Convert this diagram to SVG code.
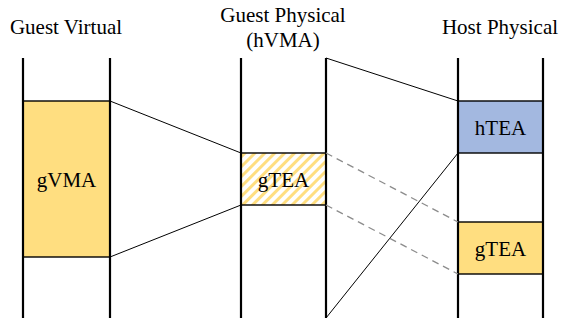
<svg xmlns="http://www.w3.org/2000/svg" width="561" height="321" viewBox="0 0 561 321">
<style>
text{font-family:"Liberation Serif","Times New Roman",serif;font-size:21px;fill:#000;text-anchor:middle}
.rail{stroke:#000;stroke-width:2.2;fill:none}
.box{stroke:#000;stroke-width:1.4}
.y{fill:#FFDE80}
.b{fill:#A3B8E0}
.c{stroke:#000;stroke-width:1;fill:none}
.d{stroke:#8c8c8c;stroke-width:1.3;fill:none;stroke-dasharray:7,5}
</style>
<defs>
<pattern id="hatch" patternUnits="userSpaceOnUse" width="7" height="7" patternTransform="rotate(45)">
<rect width="7" height="7" fill="#fff"/>
<rect width="3" height="7" fill="#FFDE80"/>
</pattern>
</defs>
<g id="labels">
<text x="66" y="34">Guest Virtual</text>
<text x="283" y="22">Guest Physical</text>
<text x="283" y="47">(hVMA)</text>
<text x="500" y="34">Host Physical</text>
</g>
<g id="gvma">
<rect class="box y" x="23" y="101" width="87" height="156"/>
<text x="66.5" y="187">gVMA</text>
</g>
<g id="gtea-guest">
<rect class="box" fill="url(#hatch)" x="241" y="153" width="85" height="52"/>
<text x="283.5" y="187">gTEA</text>
</g>
<g id="htea">
<rect class="box b" x="458" y="101" width="85" height="52"/>
<text x="500.5" y="135">hTEA</text>
</g>
<g id="gtea-host">
<rect class="box y" x="458" y="222" width="85" height="52"/>
<text x="500.5" y="256">gTEA</text>
</g>
<g id="rails">
<line class="rail" x1="23" y1="58" x2="23" y2="318"/>
<line class="rail" x1="110" y1="58" x2="110" y2="318"/>
<line class="rail" x1="241" y1="58" x2="241" y2="318"/>
<line class="rail" x1="326" y1="58" x2="326" y2="318"/>
<line class="rail" x1="458" y1="58" x2="458" y2="318"/>
<line class="rail" x1="543" y1="58" x2="543" y2="318"/>
</g>
<g id="connectors">
<line class="c" x1="110" y1="101" x2="241" y2="153"/>
<line class="c" x1="110" y1="257" x2="241" y2="205"/>
<line class="c" x1="326" y1="58" x2="458" y2="101"/>
<line class="c" x1="326" y1="318" x2="458" y2="153"/>
<line class="d" x1="326" y1="153" x2="458" y2="222"/>
<line class="d" x1="326" y1="205" x2="458" y2="274"/>
</g>
</svg>
